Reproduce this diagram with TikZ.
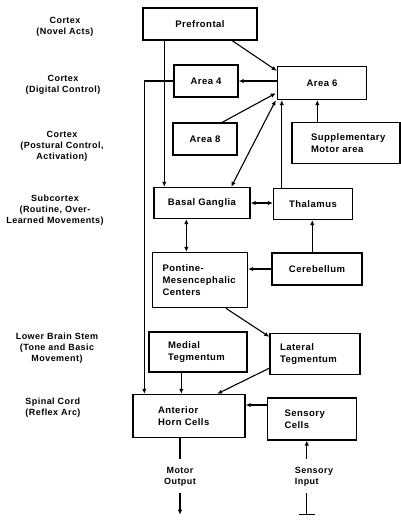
\documentclass[tikz,border=0pt]{standalone}
\usepackage{fontspec}
\setmainfont{Liberation Sans}[LetterSpace=5]
\usetikzlibrary{arrows.meta,calc}

\begin{document}
\begin{tikzpicture}[x=1pt,y=-1pt,>={Latex[length=5pt,width=4.5pt]},
	box/.style={draw,line width=1.4pt,inner sep=0pt,font=\bfseries\fontsize{9.5}{12}\selectfont},
	lab/.style={align=center,inner sep=0pt,font=\bfseries\fontsize{9}{11}\selectfont},
	con/.style={line width=1.1pt}]
			\useasboundingbox (0,0) rectangle (401,520);
			\node[lab] (l1) at (65,27) {Cortex\\(Novel Acts)};
			\node[lab] (l2) at (63,85) {Cortex\\(Digital Control)};
			\node[lab] (l3) at (62,146) {Cortex\\(Postural Control,\\Activation)};
			\node[lab] (l4) at (55,210) {Subcortex\\(Routine, Over-\\Learned Movements)};
			\node[lab] (l5) at (57,348) {Lower Brain Stem\\(Tone and Basic\\Movement)};
			\node[lab,align=left] (l6) at (53,408) {Spinal Cord\\(Reflex Arc)};
			\node[box,minimum width=114,minimum height=32] (pref) at (200,24) {Prefrontal};
			\node[box,minimum width=64,minimum height=32] (area4) at (206,81) {Area 4};
			\node[box,minimum width=89,minimum height=33] (area6) at (322,83) {Area 6};
			\node[box,minimum width=64,minimum height=32] (area8) at (205,139) {Area 8};
			\node[box,minimum width=108,minimum height=41,text width=70,align=left] (sma) at (346,143) {Supplementary\\Motor area};
			\node[box,minimum width=96,minimum height=31] (basal) at (202,203) {Basal Ganglia};
			\node[box,minimum width=79,minimum height=31] (thal) at (313,204) {Thalamus};
			\node[box,minimum width=95,minimum height=55,text width=75,align=left] (pont) at (200,280) {Pontine-\\Mesencephalic\\Centers};
			\node[box,minimum width=90,minimum height=32] (cereb) at (317,269) {Cerebellum};
			\node[box,minimum width=98,minimum height=40,text width=60,align=left] (medial) at (198,352) {Medial\\Tegmentum};
			\node[box,minimum width=90,minimum height=41,text width=70,align=left] (lateral) at (315,354) {Lateral\\Tegmentum};
			\node[box,minimum width=112,minimum height=43,text width=62,align=left] (ahc) at (189,416) {Anterior\\Horn Cells};
			\node[box,minimum width=89,minimum height=42,text width=55,align=left] (sens) at (312,419) {Sensory\\Cells};
			\node[lab] (mout) at (180,477) {Motor\\Output};
			\node[lab,align=left] (sin) at (314,477) {Sensory\\Input};
			\draw[con,->] ($(pref.south west)+(90,0)$) -- ($(area6.north west)+(0,5)$);
			\draw[con,->] ($(pref.south west)+(22,0)$) coordinate (p) -- (p |- basal.north);
			\draw[con,->] (area4.west) -| ($(ahc.north west)+(12,0)$);
			\draw[con,->] (area4.east -| area6.west) -- (area4.east);
			\draw[con,->] ($(area8.north west)+(50,0)$) -- ($(area6.south west)+(-1,-7)$);
			\draw[con,<->] ($(basal.north west)+(78,0)$) -- ($(area6.south west)+(-1,0)$);
			\draw[con,->] ($(thal.north west)+(9,0)$) coordinate (t) -- (t |- area6.south);
			\draw[con,->] ($(sma.north west)+(26,0)$) coordinate (s) -- (s |- area6.south);
			\draw[con,<->] (basal.east) -- (basal.east -| thal.west);
			\draw[con,<->] ($(basal.south west)+(33,0)$) coordinate (b) -- (b |- pont.north);
			\draw[con,->] ($(cereb.north west)+(41,0)$) coordinate (c) -- (c |- thal.south);
			\draw[con,->] (cereb.west) -- (cereb.west -| pont.east);
			\draw[con,->] ($(pont.south west)+(74,0)$) -- ($(lateral.north west)+(0,4)$);
			\draw[con,->] ($(medial.south west)+(33,0)$) coordinate (m) -- (m |- ahc.north);
			\draw[con,->] ($(lateral.south west)+(0,-7)$) -- ($(ahc.north west)+(85,0)$);
			\draw[con,->] ($(sens.west)+(0,-14)$) coordinate (r) -- (r -| ahc.east);
			\draw[con] (ahc.south -| mout) -- ($(mout.north)+(0,-8)$);
			\draw[con,->] ($(mout.south)+(0,6)$) -- ++(0,22);
			\coordinate (sx) at ($(sens.south west)+(40,0)$);
			\draw[con,->] ($(sin.north -| sx)+(0,-8)$) -- (sx);
			\draw[con] ($(sin.south -| sx)+(0,6)$) -- ++(0,22) coordinate (sb);
			\draw[con] ($(sb)+(-8,0)$) -- ($(sb)+(8,0)$);
		\end{tikzpicture}
\end{document}
